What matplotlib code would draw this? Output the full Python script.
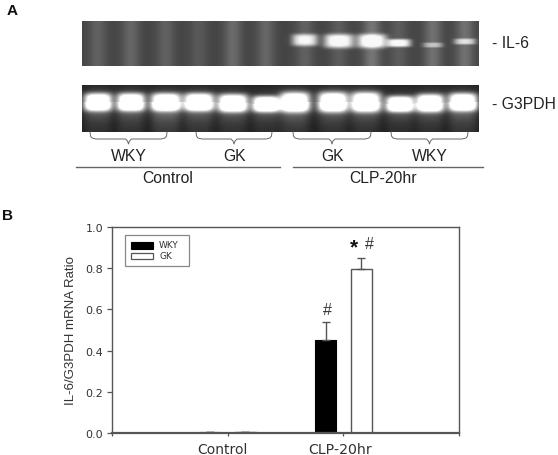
#!/usr/bin/env python3
"""Two panel figure: gel images (A) and IL-6/G3PDH mRNA ratio bars (B)."""

import numpy as np
import matplotlib
matplotlib.use("Agg")
import matplotlib.pyplot as plt
from matplotlib.patches import Rectangle

W, H = 558, 456

# panel A, one entry per lane (pixels of the original picture for lane centres)
il6_lane_x = [98, 131, 166, 199, 233, 266, 305, 339, 372, 399, 433, 465]
il6_halfwidth = [1, 1, 1, 1, 1, 1, 13, 15, 15, 12, 10, 11]
il6_center_y = [41, 41, 41, 41, 41, 41, 41, 42, 42, 44, 46, 42.5]
il6_halfheight = [1, 1, 1, 1, 1, 1, 6, 7, 7, 4, 2.5, 3]
il6_brightness = [0, 0, 0, 0, 0, 0, 0.62, 0.72, 0.72, 0.68, 0.34, 0.46]
il6_background = [0.38, 0.40, 0.38, 0.35, 0.42, 0.40, 0.38, 0.36, 0.46, 0.36, 0.44, 0.44]

g3_lane_x = [98, 131, 166, 199, 233, 266, 295, 333, 366, 400, 430, 463]
g3_halfwidth = [14, 14, 15, 15, 15, 13.5, 15, 15, 15, 14, 14, 14.5]
g3_center_y = [103, 103, 103, 103, 104, 105, 103, 103, 103, 105, 104, 103]
g3_halfheight = [9, 9, 9, 9, 9, 8, 10, 10, 10, 8, 9, 9]
g3_smear = [0.22, 0.24, 0.34, 0.26, 0.22, 0.18, 0.28, 0.22, 0.22, 0.18, 0.20, 0.28]

brackets = [(90, 167, "WKY"), (196, 272, "GK"), (293, 371, "GK"), (391, 468, "WKY")]
treatment_labels = ["Control", "CLP-20hr"]

# panel B
categories = ["Control", "CLP-20hr"]
wky_values = [0.006, 0.451]
gk_values = [0.004, 0.796]
wky_err = [0.0, 0.087]
gk_err = [0.0, 0.054]
y_ticks = [0.0, 0.2, 0.4, 0.6, 0.8, 1.0]

AXIS_GREY = "#555555"
TEXT_GREY = "#333333"
ARIAL = "Liberation Sans"


def make_il6_gel(x, y):
    img = np.full((len(y), len(x)), 0.27)
    for cx, bg in zip(il6_lane_x, il6_background):
        img += (bg - 0.27) * np.exp(-((x - cx) / 9.0) ** 2)[None, :]
    for cx, hw, cy, hh, b in zip(il6_lane_x, il6_halfwidth, il6_center_y, il6_halfheight, il6_brightness):
        dx = (x - cx)[None, :] / hw
        dy = (y - cy)[:, None] / hh
        img += b * np.exp(-(dx ** 4 + dy ** 4))
    return np.clip(img, 0, 0.97)


def make_g3_gel(x, y):
    img = np.full((len(y), len(x)), 0.12)
    for cx, hw, cy, hh, s in zip(g3_lane_x, g3_halfwidth, g3_center_y, g3_halfheight, g3_smear):
        dx = (x - cx)[None, :] / hw
        dy = (y - cy)[:, None] / hh
        img += 1.0 * np.exp(-(dx ** 4 + dy ** 4))
        # soft halo round the band
        img += 0.22 * np.exp(-((dx / 1.15) ** 2 + (dy / 1.5) ** 2))
        below = np.clip(y - cy, 0, None)[:, None]
        img += s * np.exp(-(dx ** 4)) * np.exp(-below / 26.0) * (below > 0)
    return np.clip(img, 0, 1)


def draw_bracket(ax, x0, x1):
    xc = (x0 + x1) / 2
    top, mid, tip = 133, 140, 145
    xs = [x0, x0 + 0.5, x0 + 2, x0 + 6, xc - 3, xc - 1, xc, xc + 1, xc + 3, x1 - 6, x1 - 2, x1 - 0.5, x1]
    ys = [top, top + 4, mid - 1, mid, mid, mid + 2, tip, mid + 2, mid, mid, mid - 1, top + 4, top]
    ax.plot(xs, ys, color="#666666", lw=0.7)


fig = plt.figure(figsize=(W / 100, H / 100), dpi=100)

# page-level axes in picture pixels, used for panel A and the panel letters
page = fig.add_axes([0, 0, 1, 1])
page.set_xlim(0, W)
page.set_ylim(H, 0)
page.axis("off")

gel_x = np.arange(82, 479) + 0.5
il6_y = np.arange(22, 67) + 0.5
g3_y = np.arange(86, 133) + 0.5
page.imshow(make_il6_gel(gel_x, il6_y), cmap="gray", vmin=0, vmax=1, aspect="auto",
            extent=[82, 479, 67, 22], interpolation="bilinear")
page.imshow(make_g3_gel(gel_x, g3_y), cmap="gray", vmin=0, vmax=1, aspect="auto",
            extent=[82, 479, 133, 86], interpolation="bilinear")
page.set_xlim(0, W)
page.set_ylim(H, 0)

for x0, x1, name in brackets:
    draw_bracket(page, x0, x1)
    page.text((x0 + x1) / 2 + 0.5, 157, name, family=ARIAL, fontsize=11.3, color="#222222",
              ha="center", va="center")

page.plot([76, 280], [168, 168], color="#666666", lw=1.0)
page.plot([293, 483], [168, 168], color="#666666", lw=1.0)
page.text(168, 178.5, treatment_labels[0], family=ARIAL, fontsize=11.3, color="#222222", ha="center", va="center")
page.text(383, 178.5, treatment_labels[1], family=ARIAL, fontsize=11.3, color="#222222", ha="center", va="center")

page.text(492, 43, "- IL-6", family=ARIAL, fontsize=11.3, color="#222222", ha="left", va="center")
page.text(492, 105, "- G3PDH", family=ARIAL, fontsize=11.3, color="#222222", ha="left", va="center")

page.text(7, 11, "A", family=ARIAL, fontsize=11, fontweight="bold", color="#111111", ha="left", va="center")
page.text(2, 216, "B", family=ARIAL, fontsize=11, fontweight="bold", color="#111111", ha="left", va="center")

# panel B
ax = fig.add_axes([112 / W, 1 - 434 / H, (459 - 112) / W, (434 - 228) / H])
x = np.arange(1, len(categories) + 1)
offset, width = 0.154, 0.18
ax.bar(x - offset, wky_values, width, color="black", edgecolor="black", linewidth=0.8,
       yerr=[np.zeros(2), wky_err], ecolor=AXIS_GREY, error_kw=dict(capsize=2.8, elinewidth=1.0, capthick=1.0))
ax.bar(x + offset, gk_values, width, color="white", edgecolor=AXIS_GREY, linewidth=1.0,
       yerr=[np.zeros(2), gk_err], ecolor=AXIS_GREY, error_kw=dict(capsize=2.8, elinewidth=1.0, capthick=1.0))

ax.set_xlim(0, 3)
ax.set_ylim(0, 1)
ax.set_xticks([0, 1, 2, 3])
ax.set_xticklabels([])
ax.set_yticks(y_ticks)
ax.set_yticklabels([f"{v:.1f}" for v in y_ticks], fontsize=8, color=TEXT_GREY)
ax.tick_params(axis="y", length=3.5, width=0.9, color=AXIS_GREY, pad=3)
ax.tick_params(axis="x", length=2.5, width=0.9, color=AXIS_GREY)
for side, spine in ax.spines.items():
    spine.set_color(AXIS_GREY)
    spine.set_linewidth(1.0)
ax.spines["bottom"].set_linewidth(1.6)
ax.set_ylabel("IL-6/G3PDH mRNA Ratio", family=ARIAL, fontsize=9.5, color=TEXT_GREY, labelpad=6)

page.text(222, 450, categories[0], fontsize=10, color=TEXT_GREY, ha="center", va="center")
page.text(340, 450, categories[1], fontsize=10.2, color=TEXT_GREY, ha="center", va="center")

ax.text(x[1] - offset + 0.015, 0.60, "#", family=ARIAL, fontsize=11.5, color=TEXT_GREY, ha="center", va="center")
ax.text(x[1] + offset - 0.06, 0.905, "*", family=ARIAL, fontsize=15, fontweight="bold", color="#111111",
        ha="center", va="center")
ax.text(x[1] + offset + 0.07, 0.922, "#", family=ARIAL, fontsize=11.5, color=TEXT_GREY, ha="center", va="center")

# hand-placed legend box like the original
page.set_zorder(3)
page.patch.set_alpha(0)
page.add_patch(Rectangle((125, 236), 64, 31, facecolor="white", edgecolor="#888888", lw=0.9))
page.add_patch(Rectangle((131, 243), 22, 6.5, facecolor="black", edgecolor="black", lw=0.8))
page.add_patch(Rectangle((131, 254), 22, 6, facecolor="white", edgecolor=AXIS_GREY, lw=0.9))
page.text(159, 246, "WKY", fontsize=6.5, color=TEXT_GREY, ha="left", va="center")
page.text(159, 257, "GK", fontsize=6.5, color=TEXT_GREY, ha="left", va="center")

fig.savefig("out.png", dpi=100, facecolor="white")
